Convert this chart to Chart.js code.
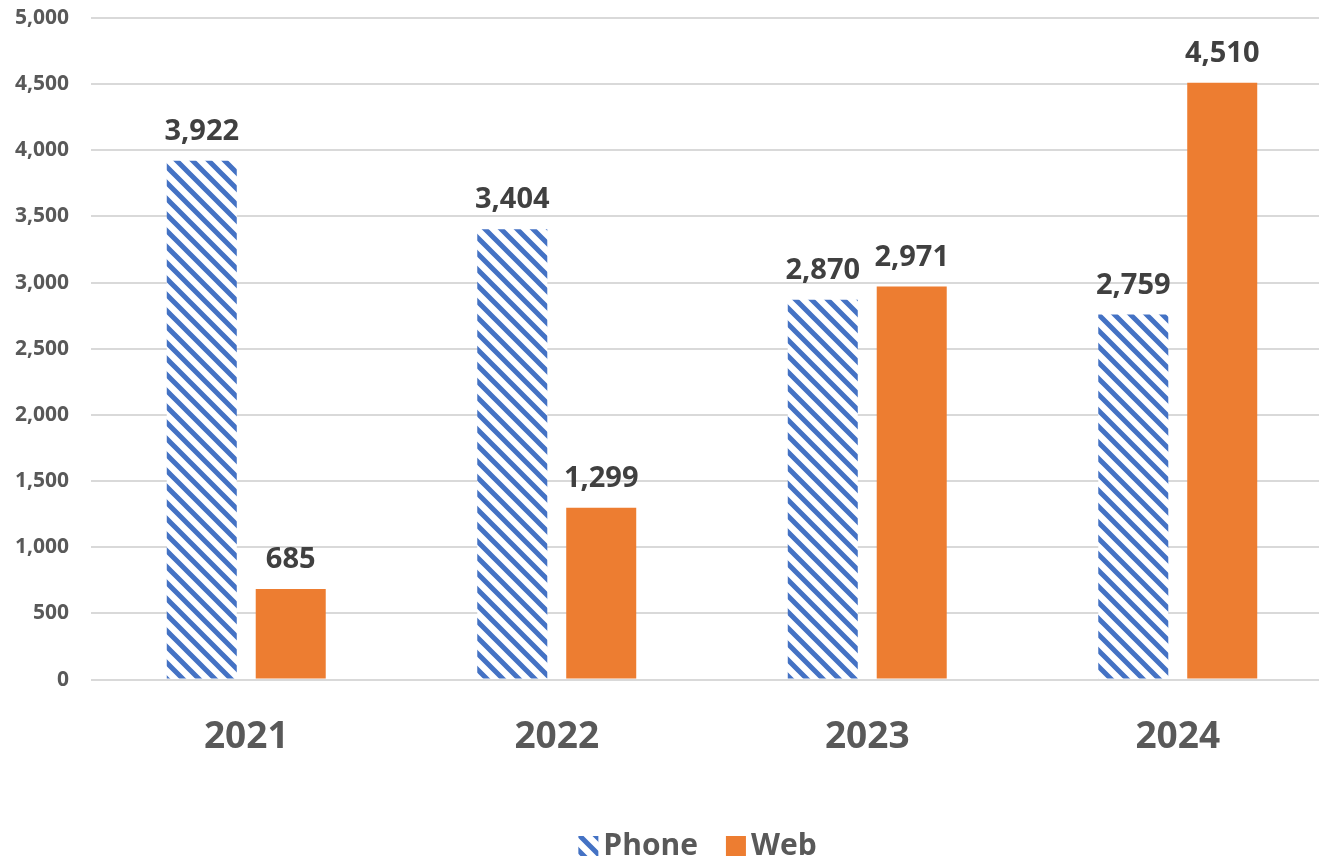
<!DOCTYPE html>
<html>
<head>
<meta charset="utf-8">
<script src="https://cdn.jsdelivr.net/npm/chart.js@4"></script>
<style>
  html, body { margin: 0; padding: 0; background: #ffffff; }
  #wrap { width: 1319px; height: 859px; overflow: hidden; }
</style>
</head>
<body>
<div id="wrap"><canvas id="chart" width="1395" height="859"></canvas></div>
<script>
// Data
const years = ['2021', '2022', '2023', '2024'];
const phone = [3922, 3404, 2870, 2759];
const web = [685, 1299, 2971, 4510];
const yTicks = [0, 500, 1000, 1500, 2000, 2500, 3000, 3500, 4000, 4500, 5000];

// Diagonal hatch pattern for Phone bars
function makeHatch(color) {
    const size = 16;
    const c = document.createElement('canvas');
    c.width = size;
    c.height = size;
    const g = c.getContext('2d');
    g.fillStyle = '#ffffff';
    g.fillRect(0, 0, size, size);
    g.strokeStyle = color;
    g.lineWidth = 5;
    g.beginPath();
    for (let k = -2; k <= 2; k++) {
        g.moveTo(k * size - size, -size);
        g.lineTo(k * size + 2 * size, 2 * size);
    }
    g.stroke();
    return g.createPattern(c, 'repeat');
}
const ctx = document.getElementById('chart').getContext('2d');
const hatch = makeHatch('#4472C4');

// Value labels above bars
const valueLabels = {
    id: 'valueLabels',
    afterDatasetsDraw(chart) {
        const c = chart.ctx;
        c.save();
        c.font = 'bold 29px "Open Sans"';
        c.fillStyle = '#404040';
        c.textAlign = 'center';
        c.textBaseline = 'middle';
        chart.data.datasets.forEach((ds, i) => {
            chart.getDatasetMeta(i).data.forEach((bar, j) => {
                c.fillText(ds.data[j].toLocaleString('en-US'), bar.x, bar.y - 29);
            });
        });
        c.restore();
    }
};

// Legend drawn by hand (tight box-to-text gap, centred on the canvas)
const bottomLegend = {
    id: 'bottomLegend',
    afterDraw(chart) {
        const c = chart.ctx;
        const box = 20, gap = 5, spacing = 28;
        c.save();
        c.font = 'bold 30px "Open Sans"';
        c.textBaseline = 'middle';
        const items = chart.data.datasets.map(ds => ({
            text: ds.label, fill: ds.backgroundColor, w: c.measureText(ds.label).width
        }));
        let total = 0;
        items.forEach((it, i) => { total += box + gap + it.w + (i ? spacing : 0); });
        let x = chart.width / 2 - total / 2;
        const y = chart.height - 13;
        items.forEach(it => {
            c.fillStyle = it.fill;
            c.fillRect(x, y - box / 2, box, box);
            c.fillStyle = '#595959';
            c.textAlign = 'left';
            c.fillText(it.text, x + box + gap, y);
            x += box + gap + it.w + spacing;
        });
        c.restore();
    }
};

new Chart(ctx, {
    type: 'bar',
    data: {
        labels: years,
        datasets: [
            { label: 'Phone', data: phone, backgroundColor: hatch, borderWidth: 0 },
            { label: 'Web', data: web, backgroundColor: '#ED7D31', borderWidth: 0 }
        ]
    },
    options: {
        responsive: false,
        animation: false,
        categoryPercentage: 0.573,
        barPercentage: 0.787,
        layout: { padding: { top: 18, right: 62, left: 14, bottom: 44 } },
        plugins: {
            legend: { display: false },
            tooltip: { enabled: false }
        },
        scales: {
            x: {
                grid: { display: false, drawTicks: false },
                border: { display: false },
                afterFit(axis) { axis.height += 19; },
                ticks: {
                    color: '#595959',
                    font: { family: 'Open Sans', size: 37, weight: 'bold' },
                    padding: 36
                }
            },
            y: {
                min: 0,
                max: 5000,
                afterBuildTicks(axis) {
                    axis.ticks = yTicks.map(v => ({ value: v }));
                },
                afterFit(axis) {
                    axis.width = 77;
                    axis.paddingTop = 0;
                    axis.paddingBottom = 0;
                },
                grid: { color: '#d9d9d9', lineWidth: 2, drawTicks: false },
                border: { display: false },
                ticks: {
                    color: '#595959',
                    font: { family: 'Open Sans', size: 21, weight: 'bold' },
                    padding: 22
                }
            }
        }
    },
    plugins: [valueLabels, bottomLegend]
});
</script>
</body>
</html>
